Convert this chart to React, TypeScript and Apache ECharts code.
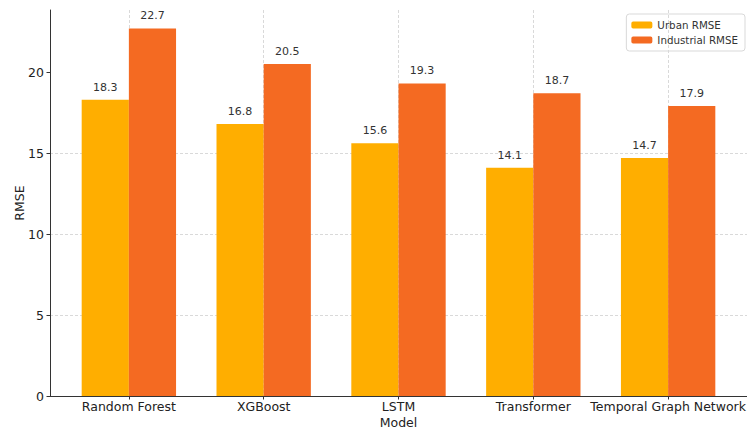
import React, { useEffect, useRef } from "react";
import * as echarts from "echarts";

const categories = ["Random Forest", "XGBoost", "LSTM", "Transformer", "Temporal Graph Network"];
const urbanRMSE = [18.3, 16.8, 15.6, 14.1, 14.7];
const industrialRMSE = [22.7, 20.5, 19.3, 18.7, 17.9];
const yTicks = [0, 5, 10, 15, 20];
const seriesNames = ["Urban RMSE", "Industrial RMSE"];

const FONT = "DejaVu Sans";
const BAR_FRAC = 0.35;
const W = 747;
const H = 431;
const GRID = { left: 50, right: 0, top: 10, bottom: 35 };

export default function App() {
  const ref = useRef<HTMLDivElement>(null);
  useEffect(() => {
    if (!ref.current) return;
    const chart = echarts.init(ref.current, null, { renderer: "svg" });
    const xIdx = categories.map((_, i) => i);
    const maxVal = Math.max(...urbanRMSE, ...industrialRMSE);
    const n = categories.length;
    const pad = BAR_FRAC + 0.05 * (n - 1 + 2 * BAR_FRAC);
    const plotW = W - GRID.left - GRID.right;
    const barPx = (BAR_FRAC * plotW) / (n - 1 + 2 * pad);
    const labelStyle = {
      show: true,
      position: "top",
      distance: 7,
      fontFamily: FONT,
      fontSize: 11,
      color: "#333",
      formatter: (p: any) => p.value[1].toFixed(1),
    };
    chart.setOption({
      animation: false,
      textStyle: { fontFamily: FONT },
      grid: { ...GRID, outerBoundsMode: "none", containLabel: false },
      legend: {
        top: 14,
        right: 2,
        orient: "vertical",
        itemWidth: 21,
        itemHeight: 7,
        itemGap: 5,
        padding: [6, 7, 6, 5],
        borderColor: "#d9d9d9",
        borderWidth: 1,
        borderRadius: 3,
        textStyle: { fontFamily: FONT, fontSize: 10.3, color: "#333" },
        data: seriesNames,
      },
      xAxis: {
        type: "value",
        min: -pad,
        max: n - 1 + pad,
        name: "Model",
        nameLocation: "middle",
        nameGap: 20,
        nameMoveOverlap: false,
        nameTextStyle: { fontFamily: FONT, fontSize: 12.5, color: "#222" },
        axisLine: { show: true, onZero: false, lineStyle: { color: "#333", width: 1 } },
        axisTick: { show: true, customValues: xIdx, length: 3.5, lineStyle: { color: "#333" } },
        axisLabel: {
          customValues: xIdx,
          margin: 4,
          fontFamily: FONT,
          fontSize: 12.5,
          color: "#222",
          formatter: (v: number) => categories[Math.round(v)] ?? "",
        },
        splitLine: { show: true, lineStyle: { color: "#cfcfcf", type: [3, 2], width: 0.8 } },
      },
      yAxis: {
        type: "value",
        min: 0,
        max: maxVal * 1.05,
        name: "RMSE",
        nameLocation: "middle",
        nameGap: 24,
        nameMoveOverlap: false,
        nameTextStyle: { fontFamily: FONT, fontSize: 12.5, color: "#222" },
        axisLine: { show: true, onZero: false, lineStyle: { color: "#333", width: 1 } },
        axisTick: { show: true, customValues: yTicks, length: 3.5, lineStyle: { color: "#333" } },
        axisLabel: {
          customValues: yTicks,
          margin: 6,
          fontFamily: FONT,
          fontSize: 12.5,
          color: "#222",
        },
        splitLine: { show: true, showMaxLine: false, lineStyle: { color: "#cfcfcf", type: [3, 2], width: 0.8 } },
      },
      series: [
        {
          name: seriesNames[0],
          type: "bar",
          barWidth: barPx,
          barGap: "-100%",
          itemStyle: { color: "#FFAE00" },
          label: labelStyle,
          data: urbanRMSE.map((v, i) => [i - BAR_FRAC / 2, v]),
        },
        {
          name: seriesNames[1],
          type: "bar",
          barWidth: barPx,
          barGap: "-100%",
          itemStyle: { color: "#F46A22" },
          label: labelStyle,
          data: industrialRMSE.map((v, i) => [i + BAR_FRAC / 2, v]),
        },
      ],
    });
    return () => chart.dispose();
  }, []);
  return <div ref={ref} style={{ position: "absolute", left: 0, top: 0, width: W, height: H }} />;
}
